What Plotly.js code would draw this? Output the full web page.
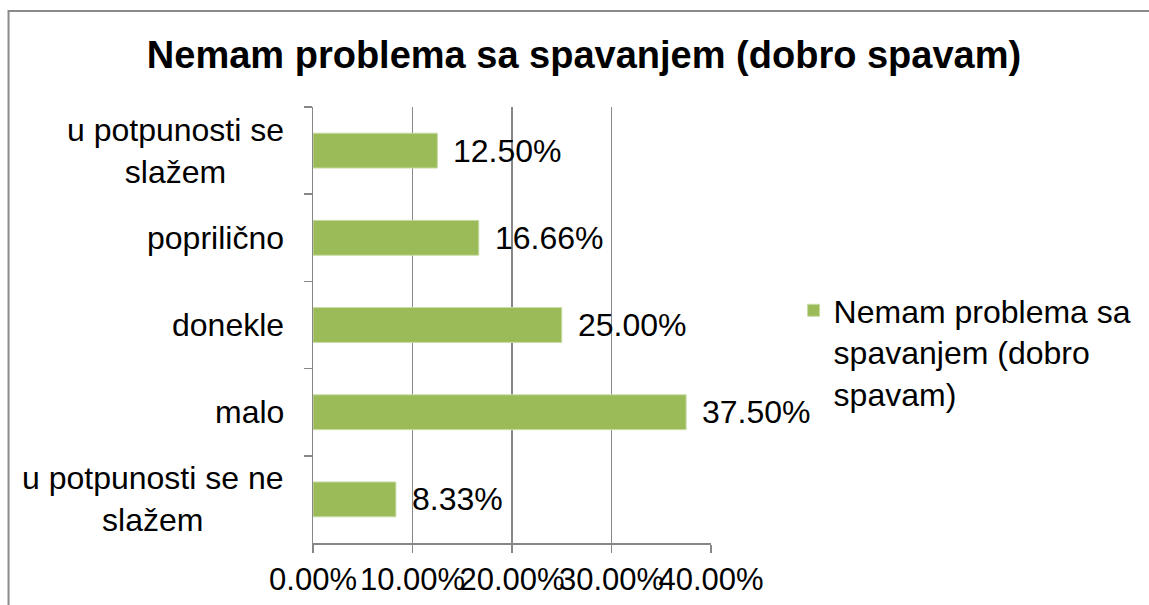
<!DOCTYPE html>
<html>
<head>
<meta charset="utf-8">
<script src="https://cdn.plot.ly/plotly-3.0.1.min.js"></script>
<style>
html,body{margin:0;padding:0;background:#fff;}
#chart{width:1149px;height:605px;}
</style>
</head>
<body>
<div id="chart"></div>
<script>
const chartTitle = 'Nemam problema sa spavanjem (dobro spavam)';
const seriesName = 'Nemam problema sa<br>spavanjem (dobro<br>spavam)';
const categories = ['u potpunosti se<br>slažem', 'popriličnо', 'donekle', 'malo', 'u potpunosti se ne<br>slažem'];
const values = [0.125, 0.1666, 0.25, 0.375, 0.0833];
const tickValues = [0, 0.1, 0.2, 0.3, 0.4];

// fix category label (plain ASCII 'o')
categories[1] = 'popriličn' + 'o';

const W = 1149, H = 605;
const L = 313, R = 713, T = 107, B = 543;
const pw = R - L, ph = B - T;
const px = x => (x - L) / pw;
const py = y => (B - y) / ph;

const font = 'Liberation Sans, Arial, sans-serif';
const green = '#9BBB59';
const gray = '#878787';

const trace = {
  type: 'bar',
  orientation: 'h',
  y: categories,
  x: values,
  name: seriesName,
  width: 0.4,
  marker: {color: green, line: {color: '#c9dca6', width: 1}},
  hoverinfo: 'x+y',
  cliponaxis: false
};

const annotations = [];
categories.forEach((c, i) => {
  annotations.push({
    xref: 'paper', yref: 'y', x: 0, y: c,
    xanchor: 'right', yanchor: 'middle', xshift: -27,
    align: 'center', showarrow: false,
    text: c, font: {family: font, size: 32, color: '#000'}
  });
  annotations.push({
    xref: 'x', yref: 'y', x: values[i], y: c,
    xanchor: 'left', yanchor: 'middle', xshift: 14,
    showarrow: false,
    text: (values[i] * 100).toFixed(2) + '%',
    font: {family: font, size: 32, color: '#000'}
  });
});

const layout = {
  width: W, height: H,
  margin: {l: L, r: W - R, t: T, b: H - B, pad: 0},
  paper_bgcolor: 'rgba(0,0,0,0)',
  plot_bgcolor: 'rgba(0,0,0,0)',
  title: {
    text: '<b>' + chartTitle + '</b>',
    font: {family: font, size: 38, color: '#000'},
    x: 584 / W, xref: 'container', xanchor: 'center',
    y: 1 - 55 / H, yref: 'container', yanchor: 'middle'
  },
  xaxis: {
    range: [0, 0.4],
    tickvals: tickValues,
    tickformat: '.2%',
    tickangle: 0,
    showgrid: true, gridcolor: gray, gridwidth: 1.5,
    zeroline: false,
    showline: true, linecolor: gray, linewidth: 1.5,
    ticks: 'outside', ticklen: 8, tickcolor: gray, tickwidth: 1.5,
    tickfont: {family: font, size: 31, color: '#000'},
    fixedrange: true
  },
  yaxis: {
    type: 'category',
    autorange: 'reversed',
    showgrid: false, zeroline: false,
    showline: true, linecolor: gray, linewidth: 1.5,
    ticks: 'outside', ticklen: 8, tickcolor: gray, tickwidth: 1.5,
    tickson: 'boundaries',
    showticklabels: false,
    fixedrange: true
  },
  showlegend: true,
  legend: {
    x: px(796), xanchor: 'left',
    y: py(283), yanchor: 'top',
    valign: 'top',
    font: {family: font, size: 32, color: '#000'},
    bgcolor: 'rgba(0,0,0,0)'
  },
  annotations: annotations,
  shapes: [{
    type: 'rect', xref: 'paper', yref: 'paper',
    x0: px(7), x1: px(1300), y0: py(11), y1: py(700),
    line: {color: '#8a8a8a', width: 2}, fillcolor: 'rgba(0,0,0,0)', layer: 'below'
  }]
};

Plotly.newPlot('chart', [trace], layout, {displayModeBar: false, staticPlot: true});
</script>
</body>
</html>
